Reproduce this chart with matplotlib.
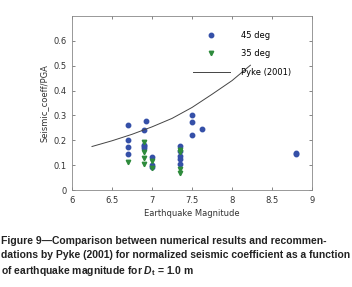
import numpy as np
import matplotlib.pyplot as plt

plt.rcParams['mathtext.fontset'] = 'custom'
plt.rcParams['mathtext.bf'] = 'Liberation Sans:bold'
plt.rcParams['mathtext.bfit'] = 'Liberation Sans:bold:italic'
plt.rcParams['mathtext.rm'] = 'Liberation Sans'

# numerical results, 45 deg
mag_45 = [6.7, 6.7, 6.7, 6.7, 6.9, 6.92, 6.9, 6.9, 6.9, 7.0, 7.0, 7.0,
          7.35, 7.35, 7.35, 7.35, 7.35, 7.5, 7.5, 7.5, 7.62, 8.8, 8.8]
coef_45 = [0.263, 0.203, 0.173, 0.144, 0.243, 0.277, 0.183, 0.177, 0.170,
           0.133, 0.100, 0.094, 0.179, 0.158, 0.138, 0.124, 0.106,
           0.303, 0.272, 0.223, 0.244, 0.143, 0.147]

# numerical results, 35 deg
mag_35 = [6.7, 6.9, 6.9, 6.9, 6.9, 7.0, 7.0, 7.35, 7.35, 7.35, 7.35]
coef_35 = [0.113, 0.193, 0.151, 0.127, 0.103, 0.117, 0.087,
           0.160, 0.151, 0.085, 0.068]

# Pyke (2001) recommendation
mag_pyke = [6.25, 6.5, 6.75, 7.0, 7.25, 7.5, 7.75, 8.0, 8.23]
coef_pyke = [0.175, 0.198, 0.224, 0.254, 0.288, 0.332, 0.385, 0.44, 0.502]

blue = '#3550a8'
green = '#2e8b3c'
grey = '#555555'

fig = plt.figure(figsize=(3.52, 2.87), dpi=100)
ax = fig.add_axes([72 / 352, 1 - 190 / 287, 240 / 352, 174 / 287])

ax.plot(mag_45, coef_45, 'o', color=blue, ms=3.2, mec=blue, label='45 deg')
ax.plot(mag_35, coef_35, 'v', color=green, ms=3.2, mec=green, label='35 deg')
ax.plot(mag_pyke, coef_pyke, '-', color='#444444', lw=0.7, label='Pyke (2001)')

ax.set_xlim(6, 9)
ax.set_ylim(0, 0.7)
ax.set_xticks([6, 6.5, 7, 7.5, 8, 8.5, 9])
ax.set_xticklabels(['6', '6.5', '7', '7.5', '8', '8.5', '9'])
ax.set_yticks([0, 0.1, 0.2, 0.3, 0.4, 0.5, 0.6])
ax.set_yticklabels(['0', '0.1', '0.2', '0.3', '0.4', '0.5', '0.6'])
ax.tick_params(direction='in', length=2.5, width=0.5, labelsize=6,
               colors=grey, labelcolor='#333333', top=True, right=True, pad=4)
for s in ax.spines.values():
    s.set_linewidth(0.6)
    s.set_color('#888888')

ax.set_xlabel('Earthquake Magnitude', fontsize=6, color='#333333', labelpad=3)
ax.set_ylabel('Seismic_coeff/PGA', fontsize=6, color='#333333', labelpad=3)

leg = ax.legend(loc='upper left', bbox_to_anchor=(121 / 240, 0.915), frameon=False,
                fontsize=6, handlelength=4.4, labelspacing=1.15, handletextpad=1.4,
                borderaxespad=0, borderpad=0)

caption = ('Figure 9\u2014Comparison between numerical results and recommen-\n'
           'dations by Pyke (2001) for normalized seismic coefficient as a function\n'
           'of earthquake magnitude for $\\mathbfit{D}_{\\mathbf{t}}$ = 1.0 m')
fig.text(0.003, 1 - 236 / 287, caption, fontsize=7.5, fontweight='bold',
         family='Liberation Sans', va='top', ha='left', linespacing=1.45,
         color='#222222')

fig.savefig('out.png', dpi=100)
